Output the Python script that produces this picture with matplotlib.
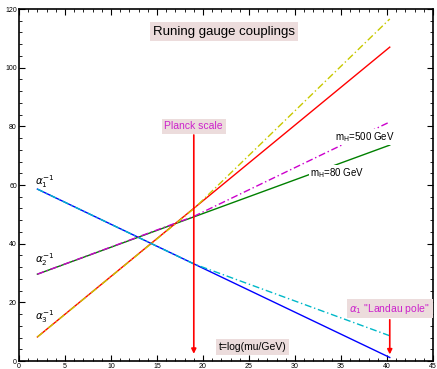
import matplotlib.pyplot as plt

plt.rcParams['font.family'] = ['Liberation Sans', 'DejaVu Sans']
plt.rcParams['mathtext.fontset'] = 'dejavusans'

# Standard-model running (solid), t = log10(mu/GeV)
t_sm = [2.0, 40.3]
a1_sm = [58.6, 1.2]
a2_sm = [29.6, 73.6]
a3_sm = [8.2, 107.0]

# modified running beyond the Planck scale (dash-dot)
t_mod = [2.0, 19.0, 40.3]
a1_mod = [58.6, 33.1, 8.6]
a2_mod = [29.6, 49.3, 81.5]
a3_mod = [8.2, 51.9, 116.6]

t_planck = 19.0
t_landau = 40.3

box = dict(boxstyle='square,pad=0.25', facecolor='#ecdcdc', edgecolor='none')
dashdot = (0, (5, 2, 1, 2))

fig = plt.figure(figsize=(4.37, 3.69), dpi=100)
ax = fig.add_axes([19/437, 1 - 361/369, 414/437, 352/369])

ax.plot(t_sm, a1_sm, color='#0000ff', lw=1.0)
ax.plot(t_sm, a2_sm, color='#008000', lw=1.0)
ax.plot(t_sm, a3_sm, color='#ff0000', lw=1.0)
ax.plot(t_mod, a1_mod, color='#00b8c8', lw=1.0, ls=dashdot)
ax.plot(t_mod, a2_mod, color='#cc00cc', lw=1.0, ls=dashdot)
ax.plot(t_mod, a3_mod, color='#c8c800', lw=1.0, ls=dashdot)

# arrows
ax.annotate('', xy=(t_planck, 1.5), xytext=(t_planck, 78),
            arrowprops=dict(arrowstyle='-|>', color='red', lw=1.2, mutation_scale=7))
ax.annotate('', xy=(t_landau, 1.3), xytext=(t_landau, 15),
            arrowprops=dict(arrowstyle='-|>', color='red', lw=1.2, mutation_scale=7))

ax.text(t_planck, 80.0, 'Planck scale', color='#cc22cc', fontsize=7.5,
        ha='center', va='center', bbox=box)
ax.text(40.3, 17.8, r'$\alpha_1$ "Landau pole"', color='#cc22cc', fontsize=7.5,
        ha='center', va='center', bbox=box)
ax.text(22.3, 112.3, 'Runing gauge couplings', color='black', fontsize=9.5,
        ha='center', va='center', bbox=box)
ax.text(25.4, 4.8, 't=log(mu/GeV)', color='black', fontsize=7.5,
        ha='center', va='center', bbox=box)

ax.text(1.7, 61.0, r'$\alpha_1^{-1}$', fontsize=7.5, ha='left', va='center')
ax.text(1.7, 34.5, r'$\alpha_2^{-1}$', fontsize=7.5, ha='left', va='center')
ax.text(1.7, 15.0, r'$\alpha_3^{-1}$', fontsize=7.5, ha='left', va='center')

white = dict(boxstyle='square,pad=0.1', facecolor='white', edgecolor='none')
ax.text(37.6, 76.4, r'm$_\mathrm{H}$=500 GeV', fontsize=7, ha='center', va='center', bbox=white)
ax.text(34.6, 64.0, r'm$_\mathrm{H}$=80 GeV', fontsize=7, ha='center', va='center', bbox=white)

ax.set_xlim(0, 45)
ax.set_ylim(0, 120)
ax.set_xticks(range(0, 46, 5))
ax.set_yticks(range(0, 121, 20))
ax.set_xticks(range(0, 46, 1), minor=True)
ax.set_yticks(range(0, 121, 4), minor=True)
ax.tick_params(which='both', direction='in', top=True, right=True, labelsize=5, pad=1.5)
ax.tick_params(which='major', length=4, width=0.8)
ax.tick_params(which='minor', length=2, width=0.6)
for s in ax.spines.values():
    s.set_linewidth(1.2)

fig.savefig('out.png', dpi=100)
